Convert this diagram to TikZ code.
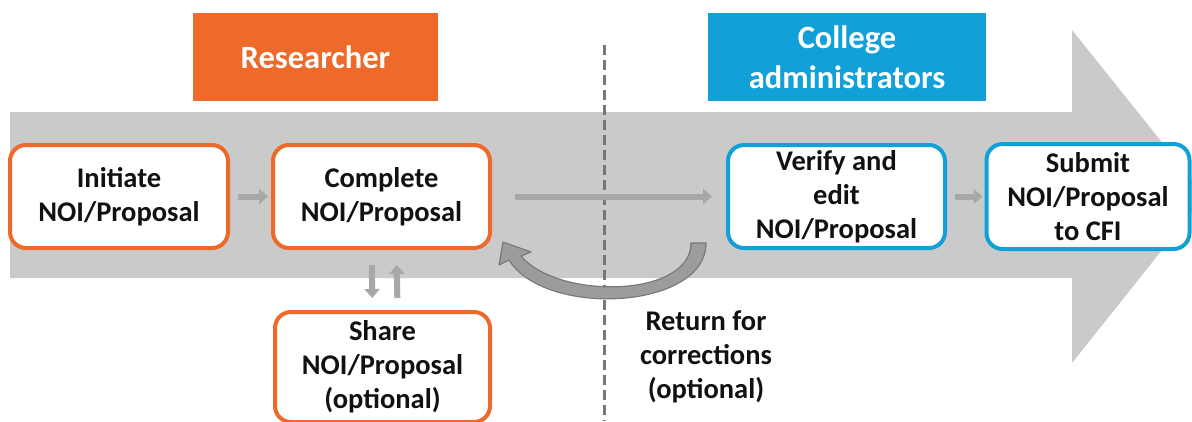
\documentclass[tikz,border=0pt]{standalone}
\usepackage{fontspec}
\setmainfont{Carlito}
\usetikzlibrary{arrows.meta}
\definecolor{orng}{HTML}{EE6A2A}
\definecolor{blu}{HTML}{12A0D8}
\definecolor{bigg}{HTML}{CACACA}
\definecolor{arrg}{HTML}{A8A8A8}
\definecolor{crv}{HTML}{9C9C9C}
\definecolor{crvd}{HTML}{7A7A7A}
\definecolor{dashcol}{HTML}{777777}
\definecolor{txt}{HTML}{111111}
\tikzset{
  header/.style={rectangle, text=white, font=\bfseries\fontsize{32.5}{40}\selectfont, align=center, inner sep=0pt},
  stepbox/.style={rectangle, rounded corners=16pt, line width=4pt, fill=white, text=txt,
     font=\bfseries\fontsize{28.5}{34}\selectfont, align=center, inner sep=0pt},
  obox/.style={stepbox, draw=orng},
  bbox/.style={stepbox, draw=blu},
  flow/.style={draw=arrg, line width=6pt, -{Triangle[length=9pt,width=15pt]}},
}
\begin{document}
\begin{tikzpicture}[x=1pt,y=-1pt]
\useasboundingbox (0,0) rectangle (1192,421);
\clip (0,0) rectangle (1192,421);
\fill[white] (0,0) rectangle (1192,421);
% big background arrow
\fill[bigg] (10,112) -- (1072,112) -- (1072,30) -- (1205,196) -- (1072,363) -- (1072,278) -- (10,278) -- cycle;
% headers
\node[header, fill=orng, minimum width=245pt, minimum height=88pt] (res) at (315.5,57) {Researcher};
\node[header, fill=blu, minimum width=278pt, minimum height=88pt] (col) at (847,57) {College\\administrators};
% dashed divider
\coordinate (dtop) at (604,45);
\coordinate (dbot) at (604,421);
\draw[draw=dashcol, line width=3pt, dash pattern=on 10pt off 5pt] (dtop) -- (dbot);
% step boxes
\node[obox, minimum width=218pt, minimum height=103pt] (init) at (119,196.5) {Initiate\\NOI/Proposal};
\node[obox, minimum width=217pt, minimum height=103pt] (comp) at (381.5,196.5) {Complete\\NOI/Proposal};
\node[obox, minimum width=215pt, minimum height=110pt] (share) at (382.5,367) {Share\\NOI/Proposal\\(optional)};
\node[bbox, minimum width=217pt, minimum height=103pt] (verify) at (836.5,196.5) {Verify and\\edit\\NOI/Proposal};
\node[bbox, minimum width=203pt, minimum height=105pt] (submit) at (1088,196.5) {Submit\\NOI/Proposal\\to CFI};
\node[text=txt, font=\bfseries\fontsize{28.5}{34}\selectfont, align=center, inner sep=0pt] (ret) at (706,357) {Return for\\corrections\\(optional)};
% connectors
\draw[flow, shorten <=8pt, shorten >=3pt] (init) -- (comp);
\draw[flow, shorten <=23pt, shorten >=14pt] (comp) -- (verify);
\draw[flow, shorten <=8pt, shorten >=2pt] (verify) -- (submit);
\draw[flow, shorten <=15pt, shorten >=12pt] ([xshift=-10pt]comp.south) -- ([xshift=-10pt]share.north);
\draw[flow, shorten <=12pt, shorten >=15pt] ([xshift=15pt]share.north) -- ([xshift=15pt]comp.south);
% return curved arrow
\filldraw[fill=crv, draw=crvd, line width=1.2pt, line join=round]
  (706,243) .. controls (706,310) and (545,318) .. (509,260)
  -- (499,265) -- (503,242) -- (531,252) -- (521,256)
  .. controls (558,300) and (691,298) .. (691,243) -- cycle;
\end{tikzpicture}
\end{document}
